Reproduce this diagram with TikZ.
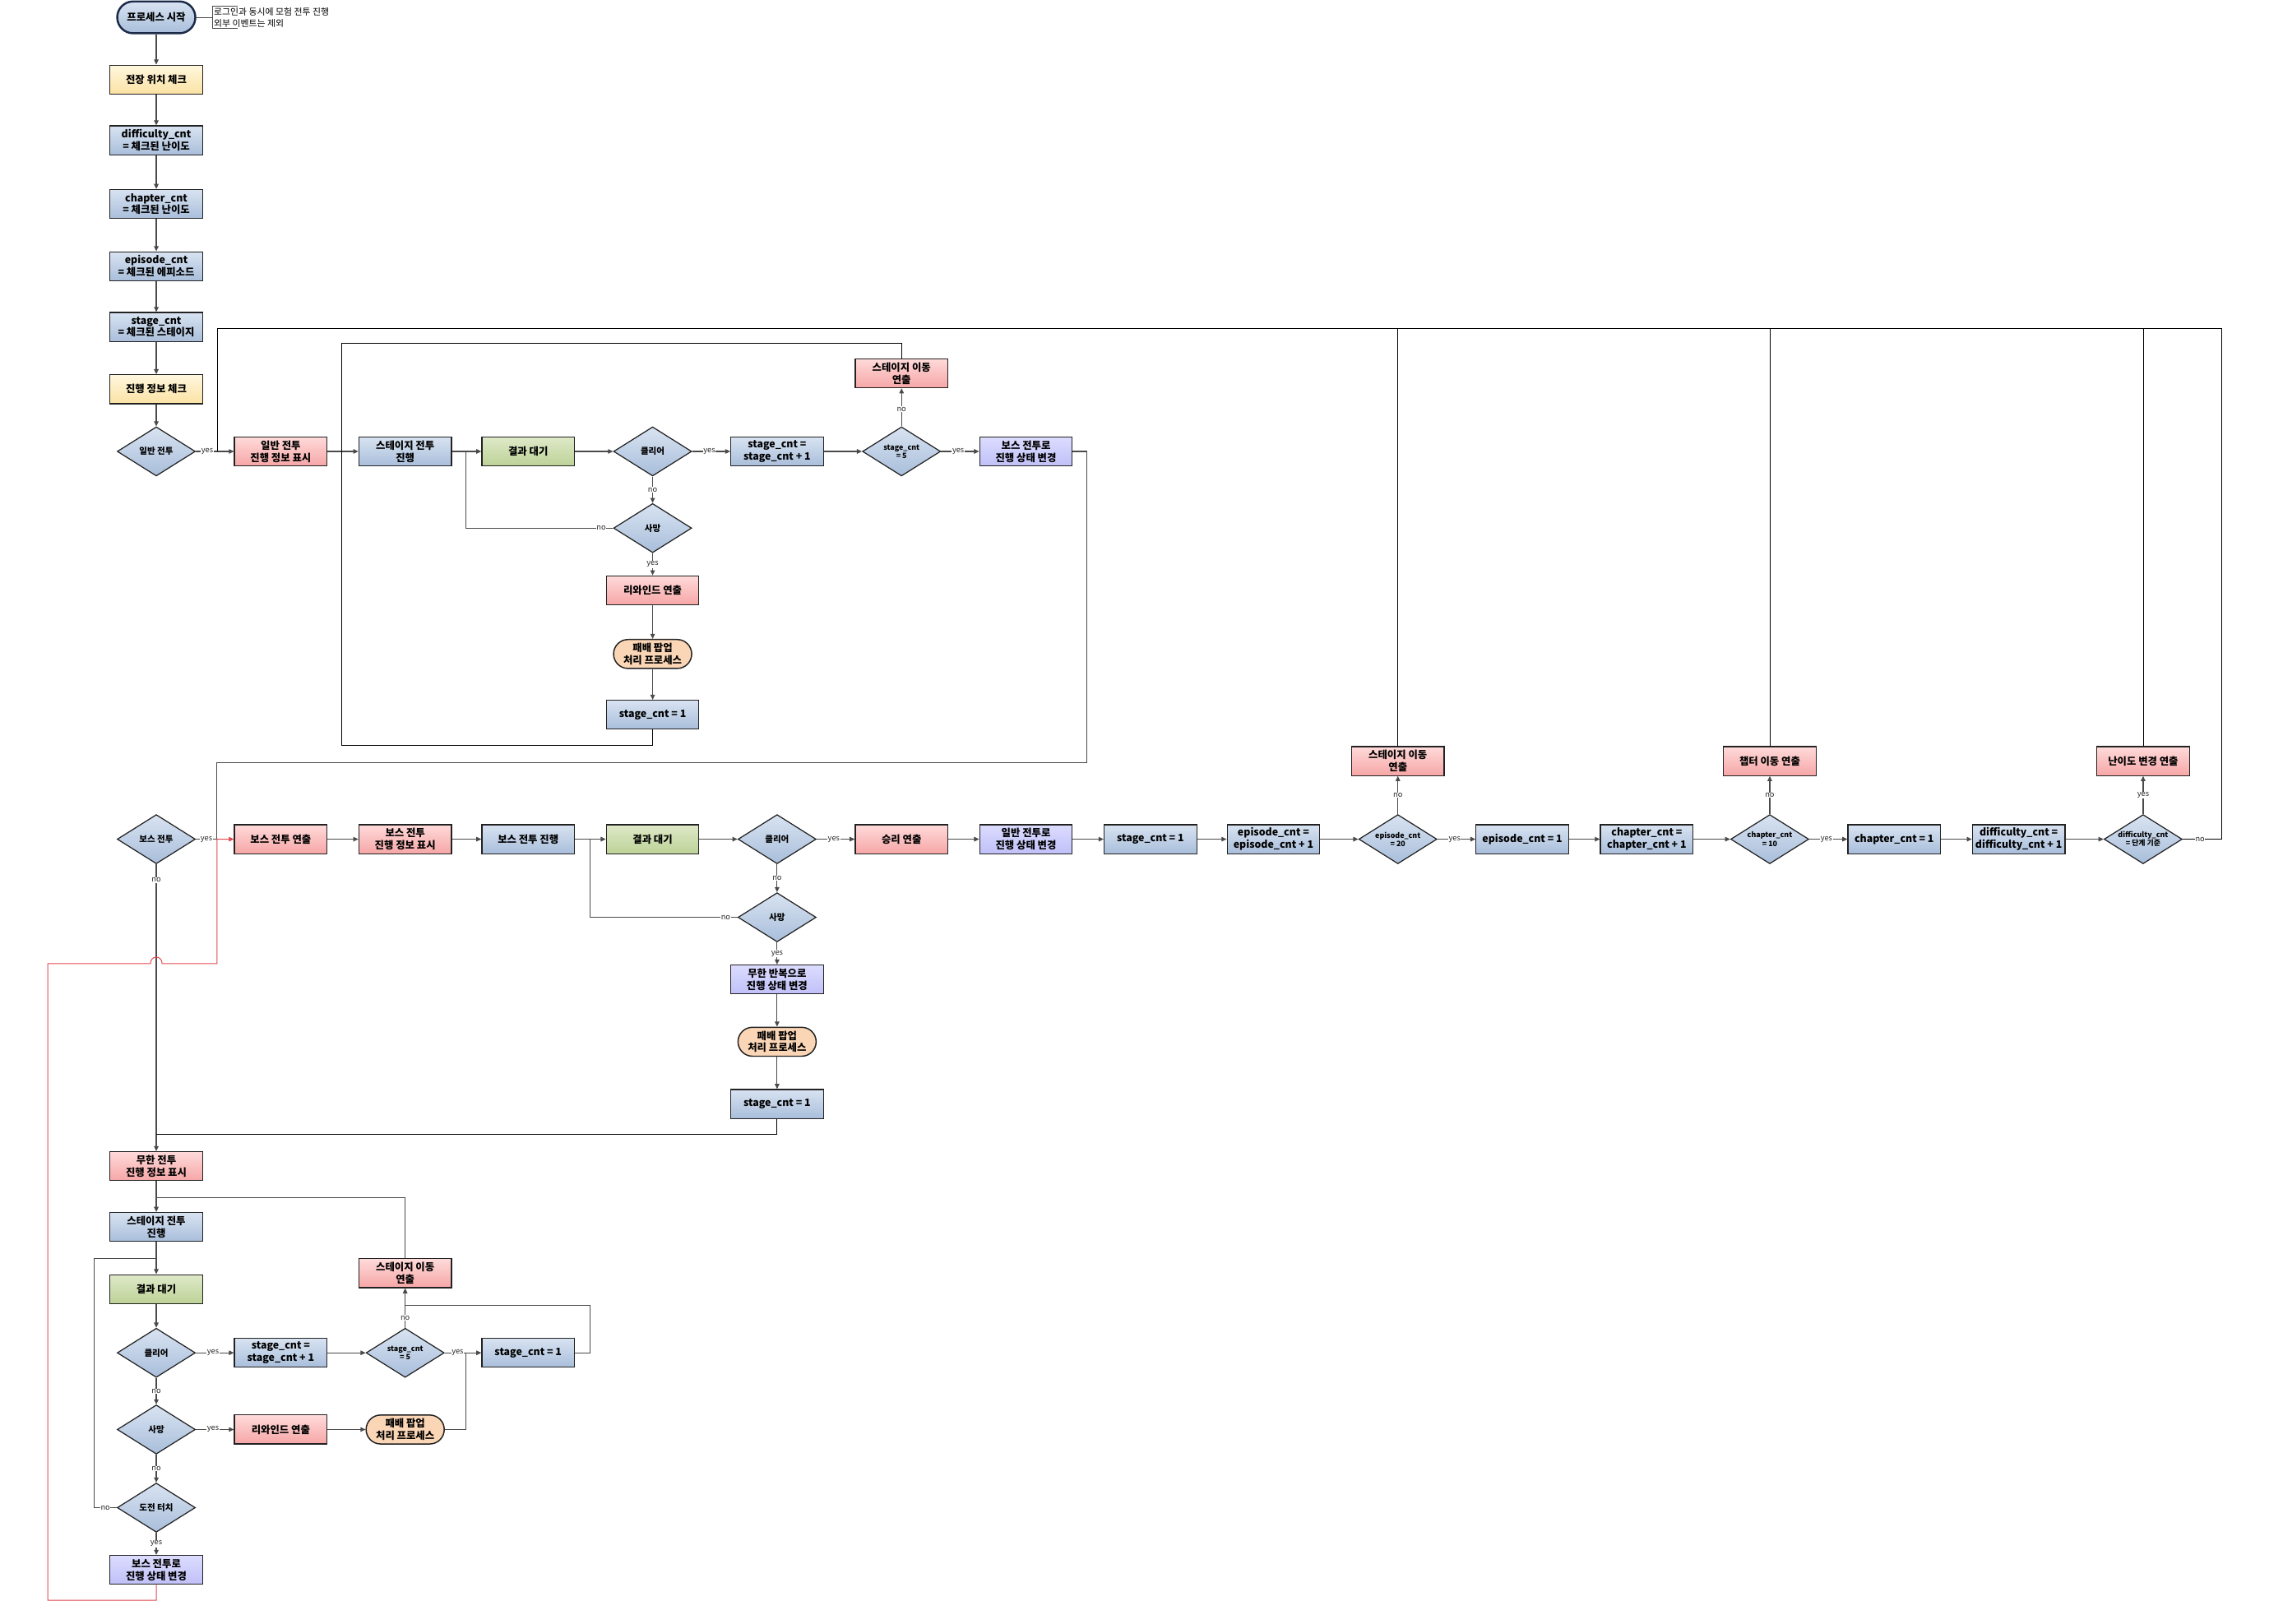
\documentclass[tikz,border=0pt]{standalone}
\usepackage{fontspec}
\setmainfont{Noto Sans CJK KR}
\usetikzlibrary{shapes.geometric, arrows.meta}
\definecolor{blueT}{HTML}{D8E3F1}
\definecolor{blueB}{HTML}{A9BEDB}
\definecolor{yelT}{HTML}{FFF7DE}
\definecolor{yelB}{HTML}{FBE2A4}
\definecolor{redT}{HTML}{FFDADA}
\definecolor{redB}{HTML}{F6A6A6}
\definecolor{grnT}{HTML}{DEE9C8}
\definecolor{grnB}{HTML}{BDD297}
\definecolor{lilT}{HTML}{DCDCFF}
\definecolor{lilB}{HTML}{C0C0F8}
\definecolor{peach}{HTML}{FBD6B6}
\definecolor{boxline}{HTML}{222222}
\definecolor{linegray}{HTML}{4A4A4A}
\definecolor{navy}{HTML}{1B2A47}
\definecolor{hopred}{HTML}{E0474C}

\newcommand{\boxfont}{\fontsize{10}{12}\selectfont\bfseries}
\newcommand{\dfont}{\fontsize{8.5}{9.5}\selectfont\bfseries}
\newcommand{\dsmall}{\fontsize{7.2}{8.2}\selectfont\bfseries}
\newcommand{\lblfont}{\fontsize{7.5}{8}\selectfont}
\newcommand{\notefont}{\fontsize{8.8}{11}\selectfont}

\tikzset{
  box/.style={rectangle, draw=boxline, line width=1pt, minimum width=3.2cm,
    minimum height=1cm, inner sep=1pt, align=center, font=\boxfont},
  bluebox/.style={box, top color=blueT, bottom color=blueB},
  yellowbox/.style={box, top color=yelT, bottom color=yelB},
  redbox/.style={box, top color=redT, bottom color=redB},
  greenbox/.style={box, top color=grnT, bottom color=grnB},
  lilacbox/.style={box, top color=lilT, bottom color=lilB},
  popup/.style={box, rounded corners=0.5cm, minimum width=2.7cm, fill=peach, line width=1.2pt},
  startnode/.style={box, rounded corners=0.55cm, minimum width=2.7cm, minimum height=1.1cm,
    draw=navy, line width=2pt, top color=blueT, bottom color=blueB},
  decision/.style={diamond, draw=boxline, line width=1pt, top color=blueT, bottom color=blueB,
    minimum width=2.7cm, minimum height=1.7cm, inner sep=0pt, aspect=1.6, align=center, font=\dfont},
  countcheck/.style={decision, font=\dsmall},
  link/.style={draw=linegray, line width=0.9pt},
  arr/.style={link, -{Triangle[length=5pt,width=4.5pt]}},
  loopline/.style={draw=black, line width=0.7pt},
  redarr/.style={draw=hopred, line width=0.8pt, -{Triangle[length=5pt,width=4.5pt]}},
  lbl/.style={fill=white, inner sep=0.5pt, font=\lblfont, text=black!85},
}

\begin{document}
\begin{tikzpicture}[x=0.05cm, y=-0.05cm]

\useasboundingbox (0,0) rectangle (1568,1122);

%--- start and checks (left column)
\node[startnode] (start) at (108,12) {프로세스 시작};
\node[font=\notefont, align=left, anchor=west, inner sep=1pt] (note) at (147,12)
  {로그인과 동시에 모험 전투 진행\\외부 이벤트는 제외};
\draw[linegray, line width=0.7pt] ([xshift=0.85cm]note.north west) -- (note.north west)
  -- (note.south west) -- ([xshift=0.85cm]note.south west);
\draw[linegray, line width=0.7pt] (start) -- (note.west);

\node[yellowbox] (chk1) at (108,55)  {전장 위치 체크};
\node[bluebox]   (diff) at (108,97)  {difficulty\_cnt\\= 체크된 난이도};
\node[bluebox]   (chap) at (108,141) {chapter\_cnt\\= 체크된 난이도};
\node[bluebox]   (epi)  at (108,184) {episode\_cnt\\= 체크된 에피소드};
\node[bluebox]   (stg)  at (108,226) {stage\_cnt\\= 체크된 스테이지};
\node[yellowbox] (chk2) at (108,269) {진행 정보 체크};
\node[decision]  (dNorm) at (108,312) {일반 전투};

\foreach \a/\b in {start/chk1, chk1/diff, diff/chap, chap/epi, epi/stg, stg/chk2, chk2/dNorm}
  \draw[arr] (\a) -- (\b);

%=== NORMAL BATTLE ROW
\node[redbox]   (nInfo)  at (194,312) {일반 전투\\진행 정보 표시};
\node[bluebox]  (nStage) at (280,312) {스테이지 전투\\진행};
\node[greenbox] (nWait)  at (365,312) {결과 대기};
\node[decision] (nClear) at (451,312) {클리어};
\node[bluebox]  (nInc)   at (537,312) {stage\_cnt =\\stage\_cnt + 1};
\node[countcheck] (nFive) at (623,312) {stage\_cnt\\= 5};
\node[lilacbox] (nBoss)  at (709,312) {보스 전투로\\진행 상태 변경};
\node[redbox]   (nMove)  at (623,258) {스테이지 이동\\연출};
\node[decision] (nDie)   at (451,365) {사망};
\node[redbox]   (nRew)   at (451,408) {리와인드 연출};
\node[popup]    (nLose)  at (451,452) {패배 팝업\\처리 프로세스};
\node[bluebox]  (nReset) at (451,494) {stage\_cnt = 1};

\coordinate (nLoopT) at (236,237);
\coordinate (nLoopB) at (236,515);
\coordinate (nJoin)  at (322,312);

\draw[arr] (dNorm) -- node[lbl, pos=0.3]{yes} (nInfo);
\draw[arr] (nInfo) -- (nStage);
\draw[arr] (nStage) -- (nWait);
\draw[arr] (nWait) -- (nClear);
\draw[arr] (nClear) -- node[lbl, pos=0.45]{yes} (nInc);
\draw[arr] (nInc) -- (nFive);
\draw[arr] (nFive) -- node[lbl, pos=0.45]{yes} (nBoss);
\draw[arr] (nFive) -- node[lbl, pos=0.45]{no} (nMove);
\draw[arr] (nClear) -- node[lbl, pos=0.5]{no} (nDie);
\draw[arr] (nDie) -- node[lbl, pos=0.5]{yes} (nRew);
\draw[arr] (nRew) -- (nLose);
\draw[arr] (nLose) -- (nReset);
\draw[link] (nDie) -- node[lbl, pos=0.08]{no} (nDie -| nJoin) -- (nJoin);
\draw[loopline] (nMove) |- (nLoopT) -- (nLoopT |- nStage);
\draw[loopline] (nReset) |- (nLoopB) -- (nLoopT |- nStage);

%=== BOSS BATTLE ROW
\node[decision] (dBoss)  at (108,580) {보스 전투};
\node[redbox]   (bShow)  at (194,580) {보스 전투 연출};
\node[redbox]   (bInfo)  at (280,580) {보스 전투\\진행 정보 표시};
\node[bluebox]  (bStage) at (365,580) {보스 전투 진행};
\node[greenbox] (bWait)  at (451,580) {결과 대기};
\node[decision] (bClear) at (537,580) {클리어};
\node[redbox]   (bWin)   at (623,580) {승리 연출};
\node[lilacbox] (bNorm)  at (709,580) {일반 전투로\\진행 상태 변경};
\node[bluebox]  (bReset) at (795,580) {stage\_cnt = 1};
\node[bluebox]  (eInc)   at (880,580) {episode\_cnt =\\episode\_cnt + 1};
\node[countcheck] (eMax) at (966,580) {episode\_cnt\\= 20};
\node[redbox]   (eMove)  at (966,526) {스테이지 이동\\연출};
\node[bluebox]  (eReset) at (1052,580) {episode\_cnt = 1};
\node[bluebox]  (cInc)   at (1138,580) {chapter\_cnt =\\chapter\_cnt + 1};
\node[countcheck] (cMax) at (1223,580) {chapter\_cnt\\= 10};
\node[redbox]   (cMove)  at (1223,526) {챕터 이동 연출};
\node[bluebox]  (cReset) at (1309,580) {chapter\_cnt = 1};
\node[bluebox]  (dInc)   at (1395,580) {difficulty\_cnt =\\difficulty\_cnt + 1};
\node[countcheck] (dMax) at (1481,580) {difficulty\_cnt\\= 단계 기준};
\node[redbox]   (dMove)  at (1481,526) {난이도 변경 연출};
\node[decision] (bDie)   at (537,634) {사망};
\node[lilacbox] (bInf)   at (537,677) {무한 반복으로\\진행 상태 변경};
\node[popup]    (bLose)  at (537,720) {패배 팝업\\처리 프로세스};
\node[bluebox]  (bReset2) at (537,763) {stage\_cnt = 1};

\coordinate (bIn)   at (150,580);
\coordinate (bRet)  at (751,527);
\coordinate (bJoin) at (408,580);
\coordinate (topR)  at (1535,227);
\coordinate (topL)  at (150,227);
\coordinate (nIn)   at (150,312);

\draw[link] (dBoss) -- node[lbl, pos=0.5]{yes} (bIn);
\foreach \a/\b in {bShow/bInfo, bInfo/bStage, bStage/bWait, bWait/bClear, bWin/bNorm,
                   bNorm/bReset, bReset/eInc, eInc/eMax, eReset/cInc, cInc/cMax, cReset/dInc, dInc/dMax,
                   bInf/bLose, bLose/bReset2}
  \draw[arr] (\a) -- (\b);
\draw[arr] (bClear) -- node[lbl, pos=0.45]{yes} (bWin);
\draw[arr] (bClear) -- node[lbl, pos=0.5]{no} (bDie);
\draw[arr] (bDie) -- node[lbl, pos=0.5]{yes} (bInf);
\draw[link] (bDie) -- node[lbl, pos=0.08]{no} (bDie -| bJoin) -- (bJoin);
\draw[arr] (eMax) -- node[lbl, pos=0.45]{yes} (eReset);
\draw[arr] (eMax) -- node[lbl, pos=0.5]{no} (eMove);
\draw[arr] (cMax) -- node[lbl, pos=0.45]{yes} (cReset);
\draw[arr] (cMax) -- node[lbl, pos=0.5]{no} (cMove);
\draw[arr] (dMax) -- node[lbl, pos=0.5]{yes} (dMove);

% return to the normal battle row
\draw[link] (nBoss) -| (bRet) -- (bRet -| bIn) -- (bIn);
\draw[loopline] (dMax) -- node[lbl, pos=0.45]{no} (dMax -| topR) -- (topR) -- (topL) -- (nIn);
\draw[loopline] (eMove) -- (eMove |- topL);
\draw[loopline] (cMove) -- (cMove |- topL);
\draw[loopline] (dMove) -- (dMove |- topL);

%=== INFINITE BATTLE COLUMN
\node[redbox]   (iInfo)  at (108,806) {무한 전투\\진행 정보 표시};
\node[bluebox]  (iStage) at (108,848) {스테이지 전투\\진행};
\node[greenbox] (iWait)  at (108,891) {결과 대기};
\node[decision] (iClear) at (108,935) {클리어};
\node[decision] (iDie)   at (108,988) {사망};
\node[decision] (iTry)   at (108,1042) {도전 터치};
\node[lilacbox] (iBoss)  at (108,1085) {보스 전투로\\진행 상태 변경};
\node[bluebox]  (iInc)   at (194,935) {stage\_cnt =\\stage\_cnt + 1};
\node[countcheck] (iFive) at (280,935) {stage\_cnt\\= 5};
\node[bluebox]  (iReset) at (365,935) {stage\_cnt = 1};
\node[redbox]   (iMove)  at (280,880) {스테이지 이동\\연출};
\node[redbox]   (iRew)   at (194,988) {리와인드 연출};
\node[popup]    (iLose)  at (280,988) {패배 팝업\\처리 프로세스};

\coordinate (iIn)   at (108,784);
\coordinate (iTop)  at (108,828);
\coordinate (iLeft) at (108,870);
\coordinate (iBack) at (65,870);
\coordinate (iRet)  at (408,902);
\coordinate (iJoin) at (322,935);

\draw[arr] (dBoss) -- node[lbl, pos=0.055]{no} (iInfo);
\draw[loopline] (bReset2) |- (iIn);
\foreach \a/\b in {iInfo/iStage, iStage/iWait, iWait/iClear, iInc/iFive, iRew/iLose}
  \draw[arr] (\a) -- (\b);
\draw[arr] (iClear) -- node[lbl, pos=0.45]{yes} (iInc);
\draw[arr] (iClear) -- node[lbl, pos=0.5]{no} (iDie);
\draw[arr] (iDie) -- node[lbl, pos=0.45]{yes} (iRew);
\draw[arr] (iDie) -- node[lbl, pos=0.5]{no} (iTry);
\draw[arr] (iTry) -- node[lbl, pos=0.5]{yes} (iBoss);
\draw[arr] (iFive) -- node[lbl, pos=0.35]{yes} (iReset);
\draw[arr] (iFive) -- node[lbl, pos=0.25]{no} (iMove);
\draw[link] (iMove) |- (iTop);
\draw[link] (iTry) -- node[lbl, pos=0.5]{no} (iTry -| iBack) |- (iLeft);
\draw[link] (iReset) -| (iRet) -- (iRet -| iMove);
\draw[link] (iLose) -| (iJoin);

% red return path to the boss battle row, hopping over the column line
\draw[redarr] (iBoss) |- (33,1106) -- (33,666) -- (104,666)
  .. controls (104,660) and (112,660) .. (112,666) -- (150,666) -- (bIn) -- (bShow);

\end{tikzpicture}
\end{document}
